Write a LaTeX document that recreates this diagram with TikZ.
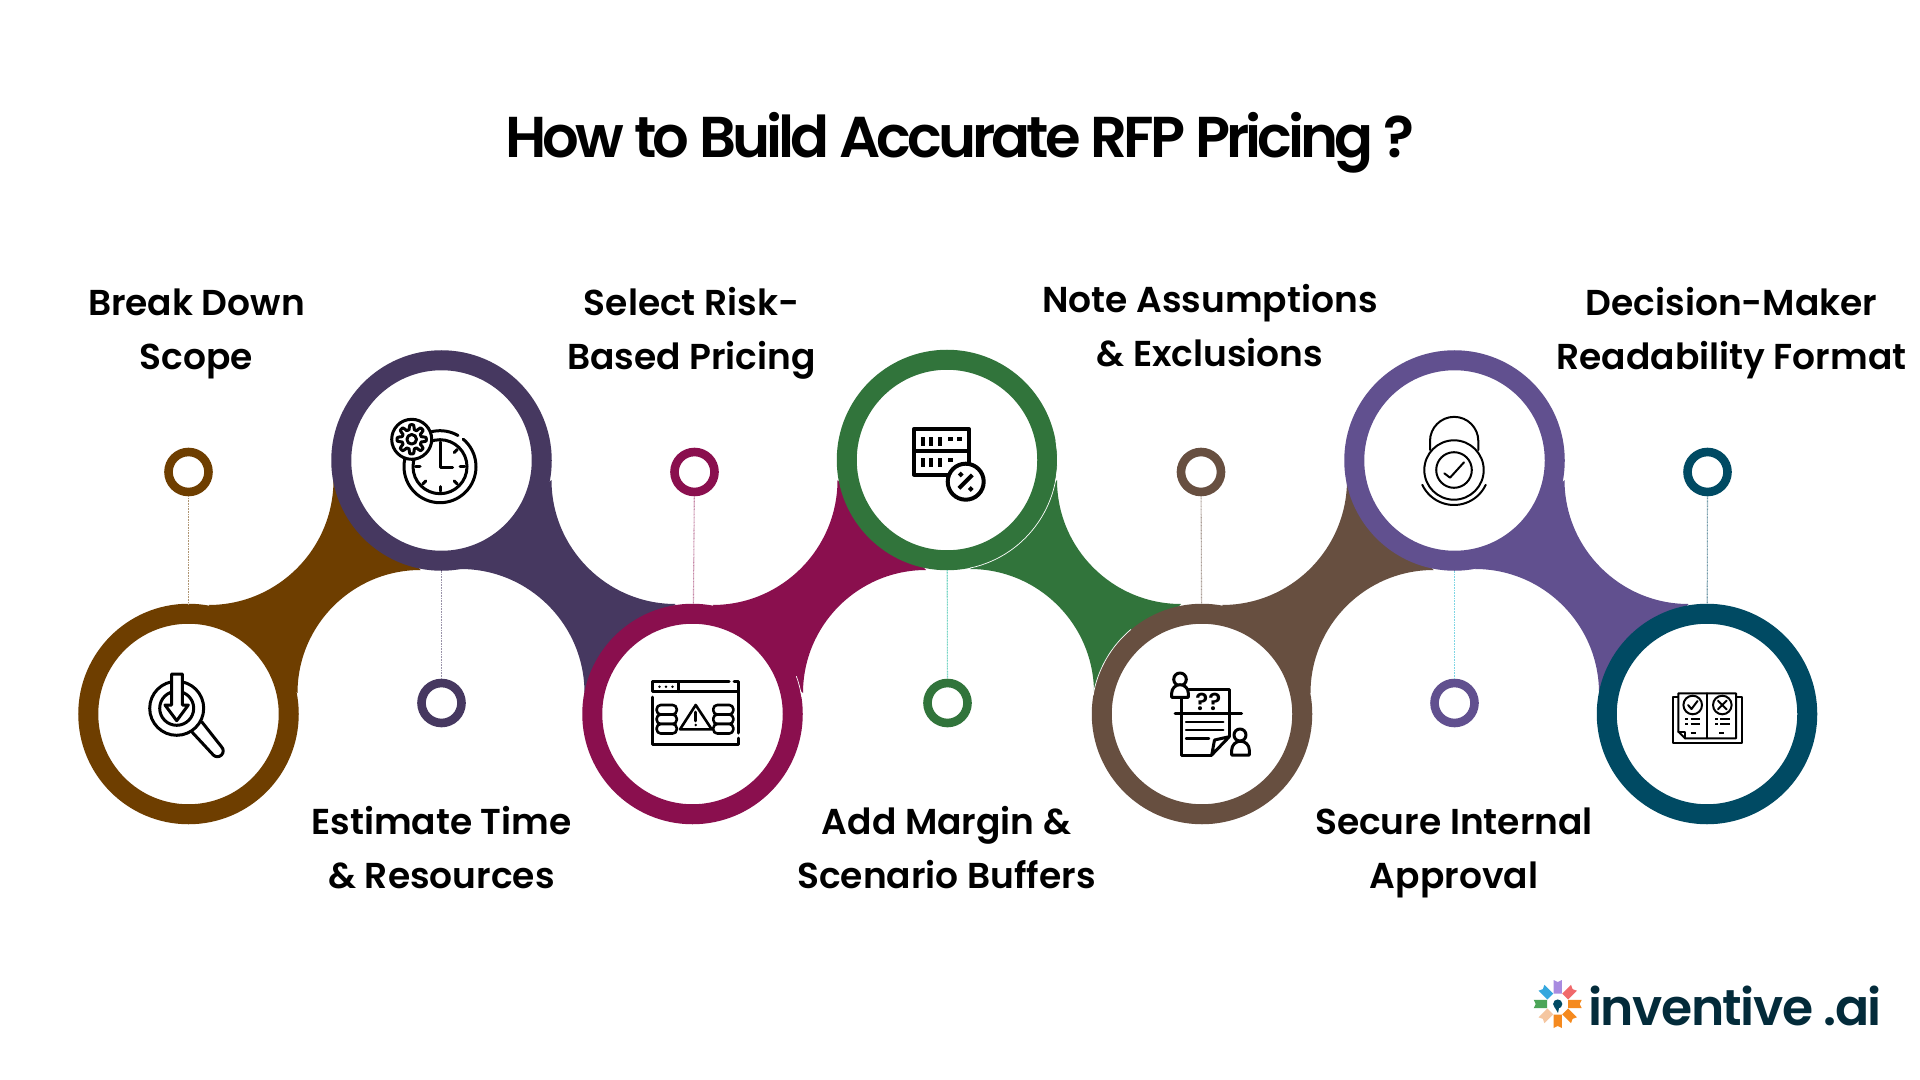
\documentclass[tikz,border=0pt]{standalone}
\usepackage{fontspec}
\setmainfont{Poppins}
\newfontfamily\labelfont{Poppins SemiBold}
\newfontfamily\titlefont[LetterSpace=-6.8]{Poppins SemiBold}
\newfontfamily\logofont[LetterSpace=-3]{Poppins SemiBold}
\definecolor{cA}{HTML}{6E3E00}
\definecolor{cB}{HTML}{463860}
\definecolor{cC}{HTML}{8A0F4E}
\definecolor{cD}{HTML}{31743B}
\definecolor{cE}{HTML}{674F40}
\definecolor{cF}{HTML}{61508F}
\definecolor{cG}{HTML}{004A63}
\definecolor{logotext}{HTML}{032B3A}
\tikzset{
  bigring/.style={circle,draw=#1,fill=white,line width=10pt,minimum size=100.25pt,inner sep=0pt},
  smallring/.style={circle,draw=#1,fill=white,line width=4.3pt,minimum size=20pt,inner sep=0pt},
  hair/.style={draw=#1,line width=.55pt,dash pattern=on .5pt off .3pt},
  lab/.style={font=\labelfont\fontsize{18}{27}\selectfont,align=center,text=black,inner sep=0pt},
  ic/.style={draw=black,line width=1.5pt,line join=round,line cap=round},
  icthin/.style={draw=black,line width=1pt,line join=round,line cap=round},
  seam/.style={draw=white,line width=.35pt},
}
\newcommand\upband[3]{\fill[#3] ({#1+20},605) arc[start angle=90,end angle=0,radius=125] -- ({#2-21},570) arc[start angle=-90,end angle=-180,radius=123] -- cycle;}
\newcommand\downband[3]{\fill[#3] ({#1+110},480) arc[start angle=180,end angle=90,radius=124] -- ({#2-108},693) arc[start angle=0,end angle=-90,radius=124] -- cycle;}
\newcommand\petal[3]{\fill[#1,rotate around={#2:(1557.7,1004)}] (1553.5,993.5) -- (1553.5,#3) -- (1557.7,{#3+2}) -- (1561.9,#3) -- (1561.9,993.5) -- cycle;}
\begin{document}
\begin{tikzpicture}[x=.5pt,y=-.5pt]
\useasboundingbox (0,0) rectangle (1920,1080);
\fill[white] (0,0) rectangle (1920,1080);
% title
\node[anchor=base,inner sep=0pt,font=\titlefont\fontsize{28.8}{36}\selectfont] (title) at (960,157.5) {How to Build Accurate RFP Pricing ?};
% bands and rings
\upband{188.5}{441.5}{cA}
\node[bigring=cA] (r1) at (188.5,714) {};
\downband{441.5}{692.5}{cB}
\node[bigring=cB] (r2) at (441.5,460.5) {};
\upband{692.5}{947}{cC}
\node[bigring=cC] (r3) at (692.5,714) {};
\downband{947}{1202}{cD}
\node[bigring=cD] (r4) at (947,460) {};
\upband{1202}{1454.5}{cE}
\node[bigring=cE] (r5) at (1202,714) {};
\downband{1454.5}{1707}{cF}
\node[bigring=cF] (r6) at (1454.5,460.5) {};
\node[bigring=cG] (r7) at (1707,714) {};
% seams
\draw[seam] (947,460) ++(-10:110.5) arc[start angle=-10,end angle=78,radius=110.5];
\draw[seam] (692.5,714) ++(-20:110.5) arc[start angle=-20,end angle=-9,radius=110.5];
\draw[seam] (1202,714) ++(-130:110.5) arc[start angle=-130,end angle=-170,radius=110.5];
% small rings and connectors
\node[smallring=cA] (d1) at (188.5,472) {};
\node[smallring=cB] (d2) at (441.5,703) {};
\node[smallring=cC] (d3) at (694.5,472) {};
\node[smallring=cD] (d4) at (947.5,703) {};
\node[smallring=cE] (d5) at (1201,472) {};
\node[smallring=cF] (d6) at (1454.5,703) {};
\node[smallring=cG] (d7) at (1707.5,472) {};
\draw[hair=cA!55!white] (d1) -- (r1);
\draw[hair=cB!55!white] (r2) -- (d2);
\draw[hair=cC!50!white] (d3) -- (r3);
\draw[hair=cD!50!cyan!60!white] (r4) -- (d4);
\draw[hair=cE!55!white] (d5) -- (r5);
\draw[hair=cF!40!cyan!60!white] (r6) -- (d6);
\draw[hair=cG!55!white] (d7) -- (r7);
% labels
\node[lab] (l1) at (196.5,334) {Break Down\\Scope};
\node[lab] (l2) at (441.5,847.5) {Estimate Time\\\& Resources};
\node[lab] (l3) at (691.5,333) {Select Risk-\\Based Pricing};
\node[lab] (l4) at (946.5,847.5) {Add Margin \&\\Scenario Buffers};
\node[lab] (l5) at (1210,326) {Note Assumptions\\\& Exclusions};
\node[lab] (l6) at (1454,852.5) {Secure Internal\\Approval};
\node[lab] (l7) at (1731.5,333.5) {Decision-Maker\\Readability Format};
% icon 1: magnifier
\draw[ic] (191.7,731.7) -- (213.3,755) arc[start angle=135,end angle=-45,radius=5.8] -- (201.7,721.7);
\draw[ic,fill=white] (176.7,708.3) circle[radius=27];
\draw[ic] (176.7,708.3) circle[radius=17];
\draw[ic,fill=white] (171.7,674) -- (182.3,674) -- (182.3,705) -- (188.3,705) -- (176.7,720.7) -- (165,705) -- (171.7,705) -- cycle;
% icon 2: clock and gear
\draw[ic] (440,466.7) ++(-50:36) arc[start angle=-50,end angle=300,radius=36];
\draw[ic] (440,466.7) circle[radius=27];
\foreach \a in {0,45,90,135,180,225,-45}{\draw[ic] (440,466.7) ++(\a:20) -- ++(\a:4.5);}
\draw[ic] (440,442) -- (440,467.3) -- (452.7,467.3);
\draw[ic,fill=white] (411.7,439.3) circle[radius=20];
\draw[ic] plot[domain=0:360,samples=97,smooth] ({411.7+(12.2+2.4*tanh(3*cos(8*\x)))*cos(\x)},{439.3+(12.2+2.4*tanh(3*cos(8*\x)))*sin(\x)}) -- cycle;
\draw[ic] (411.7,439.3) circle[radius=4.8];
% icon 3: window with warning
\draw[ic] (729,681.7) -- (652.7,681.7) -- (652.7,691.7) -- (738.3,691.7) -- (738.3,681.7) -- (734,681.7);
\draw[ic] (652.7,697) -- (652.7,744.3) -- (738.3,744.3) -- (738.3,738);
\draw[ic] (738.3,733) -- (738.3,691.7);
\draw[ic] (678.3,681.7) -- (678.3,691.7);
\foreach \x in {659.5,666,672.5}{\fill (\x,686.7) circle[radius=1.4];}
\foreach \x in {666.7,723.3}{
  \foreach \y in {705,714.5,724}{
    \draw[ic,fill=white,line width=1.3pt,rounded corners=2pt] (\x-10,\y) rectangle (\x+10,\y+9.5);
  }
}
\draw[ic,line width=1.3pt] (680,729.3) -- (711.7,729.3) -- (695.7,705) -- cycle;
\draw[ic,line width=1.3pt] (695.7,712) -- (695.7,721);
\fill (695.7,725) circle[radius=1.3];
% icon 4: server with percent
\draw[ic,line width=2pt,line cap=butt] (913.7,429.3) rectangle (969,474.5);
\draw[ic,line width=2pt,line cap=butt] (913.7,451) -- (969,451);
\foreach \x in {920.7,929,937.7}{
  \fill (\x,436.5) rectangle ++(4.3,9);
  \fill (\x,457.5) rectangle ++(4.3,9);
}
\fill (948.3,436.7) rectangle ++(5,4);
\fill (956.7,436.7) rectangle ++(5,4);
\fill (948.3,457.7) rectangle ++(5,4);
\draw[ic,fill=white,line width=2pt] (965.7,481.7) circle[radius=18];
\draw[ic,line width=2pt,line cap=butt] (959,488.3) -- (972.3,475);
\fill[rotate around={45:(960.7,474.5)}] (958.7,472.5) rectangle ++(4,4);
\fill[rotate around={45:(970.7,489)}] (968.7,487) rectangle ++(4,4);
% icon 5: document with people
\draw[ic] (1188,689.3) -- (1229.3,689.3) -- (1229.3,736.7);
\draw[ic] (1181.7,697) -- (1181.7,755) -- (1211.7,755);
\draw[ic] (1175,713.3) -- (1241.7,713.3);
\draw[ic] (1229.3,736.7) -- (1214.5,740) -- (1211.7,755) -- cycle;
\draw[ic,line width=1.2pt] (1186,721.7) -- (1223.3,721.7);
\draw[ic,line width=1.2pt] (1186,730) -- (1223.3,730);
\draw[ic,line width=1.2pt] (1186,738.3) -- (1209,738.3);
\node[inner sep=0pt,font=\labelfont\fontsize{12}{14}\selectfont] (qq) at (1208.3,701.5) {??};
\draw[ic] (1180,679.3) circle[radius=6.3];
\draw[ic,fill=white] (1171.7,697.3) -- (1171.7,693) arc[start angle=180,end angle=360,radius=8.3] -- (1188.3,697.3) -- cycle;
\draw[ic] (1240,735) circle[radius=6];
\draw[ic] (1231.7,755) -- (1231.7,750) arc[start angle=180,end angle=360,radius=8.8] -- (1249.3,755) -- cycle;
% icon 6: lock
\draw[icthin] (1430,450) -- (1430,441) arc[start angle=180,end angle=360,radius=24.15] -- (1478.3,450);
\draw[icthin,fill=white] (1454,470) circle[radius=29.7];
\draw[icthin] (1454,470) circle[radius=17.8];
\draw[icthin] (1444.3,473.3) -- (1450,477.7) -- (1464,462.3);
\draw[icthin] (1454,470) ++(25:35) arc[start angle=25,end angle=155,radius=35];
% icon 7: book
\draw[icthin,line cap=butt] (1678.3,697.3) -- (1672.7,697.3) -- (1672.7,743.3) -- (1742.3,743.3) -- (1742.3,697.3) -- (1736,697.3);
\draw[icthin,fill=white] (1678.3,693.3) -- (1736,693.3) -- (1736,738.3) -- (1685,738.3) -- (1678.3,731.6) -- cycle;
\draw[icthin] (1707.3,693.3) -- (1707.3,738.3);
\draw[icthin] (1685,738.3) -- (1685,731.6) -- (1678.3,731.6);
\draw[icthin] (1692.7,705) circle[radius=9.3];
\draw[icthin] (1688,705) -- (1691.5,709) -- (1697.5,701);
\draw[icthin] (1722.3,705) circle[radius=9.3];
\draw[icthin] (1718,700.7) -- (1726.6,709.3) (1726.6,700.7) -- (1718,709.3);
\foreach \y in {719.3,724}{
  \draw[icthin,line cap=butt] (1685,\y) -- (1688.3,\y) (1690.7,\y) -- (1700,\y);
  \draw[icthin,line cap=butt] (1715,\y) -- (1718.3,\y) (1720,\y) -- (1730,\y);
}
\draw[icthin,line cap=butt] (1690.7,733.3) -- (1696,733.3);
\draw[icthin,line cap=butt] (1719.3,733.3) -- (1724,733.3);
% logo
\definecolor{lgA}{HTML}{A88BE0}\definecolor{lgB}{HTML}{35A7DE}\definecolor{lgC}{HTML}{4CA558}
\definecolor{lgD}{HTML}{F5C6A0}\definecolor{lgE}{HTML}{F58A1F}\definecolor{lgF}{HTML}{F0696B}
\petal{lgA}{0}{980}
\petal{lgB}{45}{981}
\petal{lgC}{90}{980}
\petal{lgD}{135}{981}
\petal{lgE}{180}{980}
\petal{lgE}{225}{981}
\petal{lgE}{270}{980}
\petal{lgF}{315}{981}
\fill[cG] (1557.7,1004) circle[radius=4.6];
\fill[cG] (1554.5,1007) -- (1558,1013) -- (1559,1008) -- cycle;
\node[anchor=base west,inner sep=0pt,text=logotext,font=\logofont\fontsize{25.2}{28}\selectfont] (logo) at (1588,1025) {inventive .ai};
\end{tikzpicture}
\end{document}
